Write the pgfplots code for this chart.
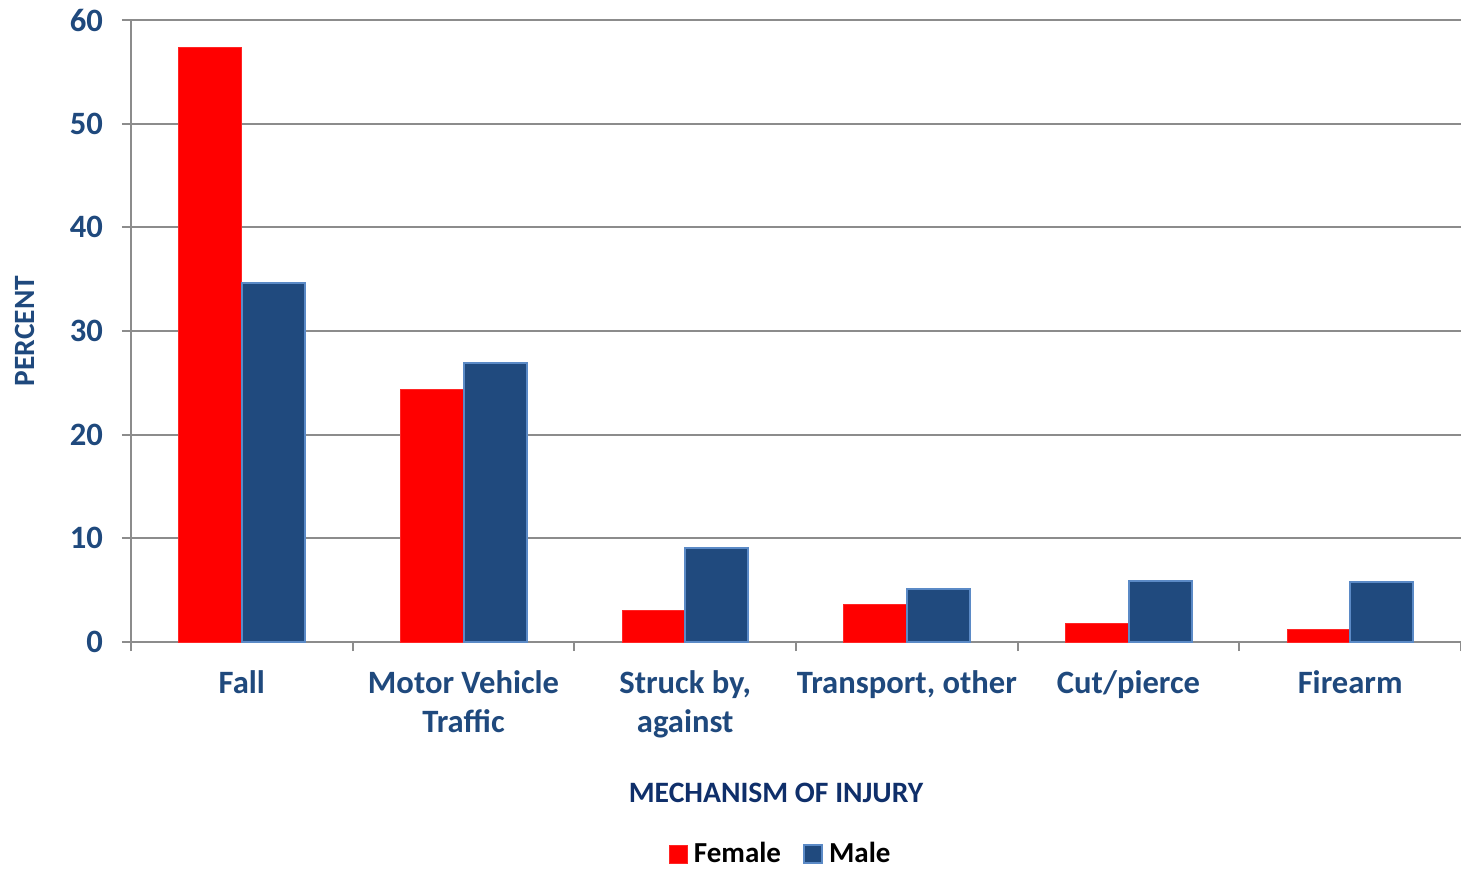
\documentclass[border=0pt]{standalone}
\usepackage{pgfplots}
\pgfplotsset{compat=1.18}
\usepackage{fontspec}
\setmainfont{Carlito}
\definecolor{tickblue}{HTML}{1F497D}
\definecolor{titleblue}{HTML}{0F2F6A}
\definecolor{malefill}{HTML}{204A7E}
\definecolor{maleedge}{HTML}{5B8AC6}
\definecolor{gridgray}{HTML}{8C8C8C}
\begin{document}
\begin{tikzpicture}
\begin{axis}[
  name=ax,
  scale only axis,
  width=665pt, height=311pt,
  ybar=0pt, bar width=31.5pt,
  xmin=-0.5, xmax=5.5,
  ymin=0, ymax=60,
  ytick={0,10,...,60},
  xtick={0,...,5},
  xticklabels={Fall,{Motor Vehicle\\Traffic},{Struck by,\\against},{Transport, other},Cut/pierce,Firearm},
  minor xtick={-0.5,0.5,...,5.5},
  major x tick style={draw=none},
  minor x tick style={draw=gridgray, line width=1pt},
  minor tick length=4.5pt,
  major tick length=4.5pt,
  tick align=outside,
  xtick pos=bottom, ytick pos=left,
  axis x line*=bottom, axis y line*=left,
  axis line style={draw=gridgray, line width=1pt},
  ytick style={draw=gridgray, line width=1pt},
  ymajorgrids, grid style={draw=gridgray, line width=1pt},
  /pgf/number format/assume math mode=true,
  ticklabel style={font=\fontsize{16.3}{19.5}\selectfont\bfseries, text=tickblue},
  xticklabel style={align=center, anchor=north, yshift=-6.5pt},
  yticklabel style={anchor=east, xshift=-6pt},
  xlabel={MECHANISM OF INJURY},
  xlabel style={at={(axis description cs:0.485,0)}, anchor=center, yshift=-75.5pt, font=\fontsize{14.8}{18}\selectfont\bfseries, text=titleblue},
  ylabel={PERCENT},
  ylabel style={at={(axis description cs:0,0.5)}, anchor=center, rotate=0, yshift=53pt, font=\fontsize{14.7}{17}\selectfont\bfseries, text=tickblue},
  legend style={at={(axis description cs:0.49,0)}, anchor=center, yshift=-106pt, draw=none, fill=none,
    legend columns=2, font=\fontsize{14.5}{17}\selectfont\bfseries, text=black,
    nodes={inner xsep=3pt},
    /tikz/every even column/.append style={column sep=8pt}},
  legend image code/.code={\fill[#1] (0pt,-4.5pt) rectangle (9pt,4.5pt);},
  clip=false,
]
\addplot[fill=red, draw=red!85!white, line width=0.5pt] coordinates {(0,57.3) (1,24.4) (2,3.0) (3,3.6) (4,1.75) (5,1.25)};
\addplot[fill=malefill, draw=maleedge, line width=1pt] coordinates {(0,34.6) (1,26.9) (2,9.05) (3,5.1) (4,5.85) (5,5.8)};
\legend{Female,Male}
\end{axis}
\pgfresetboundingbox
\path[use as bounding box] ([xshift=-65.5pt,yshift=-115pt]ax.south west) rectangle ([yshift=10pt]ax.north east);
\end{tikzpicture}
\end{document}
